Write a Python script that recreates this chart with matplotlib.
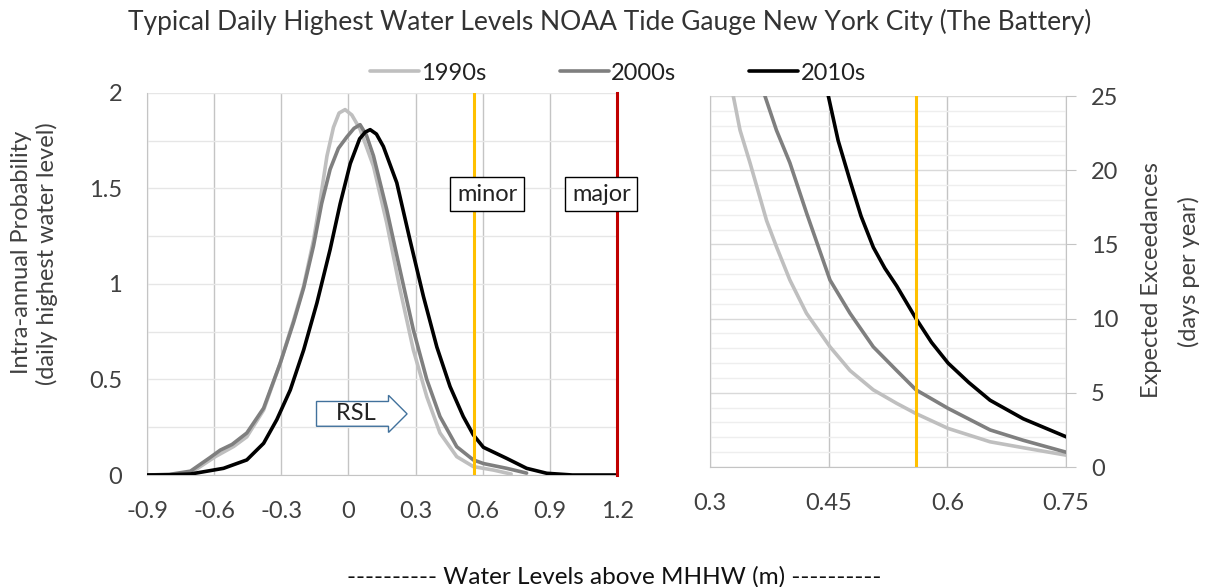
import numpy as np
import matplotlib
matplotlib.use("Agg")
import matplotlib.pyplot as plt
from matplotlib.ticker import MultipleLocator

plt.rcParams["font.family"] = ["Lato", "DejaVu Sans"]

TITLE = "Typical Daily Highest Water Levels NOAA Tide Gauge New York City (The Battery)"
XLABEL = "---------- Water Levels above MHHW (m) ----------"
DECADES = ["1990s", "2000s", "2010s"]
COLORS = ["#BFBFBF", "#7F7F7F", "#000000"]

# left panel: density of daily highest water level
pdf_x_1990 = [-0.9, -0.8, -0.706, -0.595, -0.512, -0.454, -0.379, -0.305, -0.245, -0.2, -0.156,
              -0.126, -0.096, -0.067, -0.042, -0.015, 0.015, 0.052, 0.112, 0.171, 0.231, 0.29, 0.35,
              0.409, 0.484, 0.558, 0.647, 0.727]
pdf_y_1990 = [0.0, 0.002, 0.01, 0.096, 0.15, 0.2, 0.34, 0.585, 0.81, 0.99, 1.23,
              1.44, 1.67, 1.82, 1.895, 1.913, 1.885, 1.81, 1.616, 1.32, 0.97, 0.655, 0.41,
              0.22, 0.096, 0.044, 0.026, 0.005]
pdf_x_2000 = [-0.9, -0.8, -0.706, -0.62, -0.573, -0.52, -0.454, -0.379, -0.305, -0.245, -0.2,
              -0.156, -0.12, -0.082, -0.045, -0.007, 0.025, 0.052, 0.08, 0.112, 0.171, 0.231,
              0.29, 0.35, 0.409, 0.484, 0.558, 0.603, 0.707, 0.796]
pdf_y_2000 = [0.0, 0.003, 0.02, 0.09, 0.13, 0.16, 0.22, 0.35, 0.585, 0.8, 0.98,
              1.2, 1.42, 1.6, 1.71, 1.77, 1.815, 1.834, 1.78, 1.67, 1.39, 1.07,
              0.76, 0.5, 0.306, 0.148, 0.079, 0.06, 0.035, 0.01]
pdf_x_2010 = [-0.9, -0.8, -0.706, -0.558, -0.454, -0.379, -0.32, -0.26, -0.2, -0.141, -0.082,
              -0.037, 0.008, 0.05, 0.075, 0.097, 0.125, 0.156, 0.216, 0.275, 0.335, 0.395, 0.454,
              0.513, 0.558, 0.603, 0.707, 0.796, 0.886, 1.0, 1.2]
pdf_y_2010 = [0.0, 0.001, 0.005, 0.035, 0.079, 0.166, 0.29, 0.445, 0.655, 0.9, 1.18,
              1.42, 1.63, 1.76, 1.795, 1.808, 1.785, 1.72, 1.53, 1.23, 0.935, 0.67, 0.463,
              0.306, 0.21, 0.145, 0.087, 0.035, 0.009, 0.0, 0.0]

# right panel: expected exceedances (days per year)
exc_x_1990 = [0.3295, 0.338, 0.3506, 0.3716, 0.384, 0.401, 0.422, 0.4517, 0.477, 0.5064,
              0.536, 0.5604, 0.601, 0.654, 0.696, 0.75]
exc_y_1990 = [25.0, 22.7, 20.5, 16.6, 14.85, 12.6, 10.36, 8.1, 6.5, 5.2,
              4.29, 3.6, 2.6, 1.7, 1.3, 0.8]
exc_x_2000 = [0.3695, 0.384, 0.401, 0.4222, 0.4517, 0.477, 0.5064, 0.536, 0.5604, 0.601,
              0.654, 0.696, 0.75]
exc_y_2000 = [25.0, 22.7, 20.5, 17.1, 12.6, 10.36, 8.1, 6.5, 5.2, 3.95,
              2.5, 1.8, 1.0]
exc_x_2010 = [0.4496, 0.462, 0.477, 0.491, 0.5065, 0.521, 0.536, 0.5604, 0.58, 0.601,
              0.627, 0.654, 0.696, 0.75]
exc_y_2010 = [25.0, 22.0, 19.3, 16.9, 14.8, 13.4, 12.2, 10.0, 8.4, 7.0,
              5.7, 4.5, 3.25, 2.04]

MINOR_FLOOD = 0.56
MAJOR_FLOOD = 1.2

fig = plt.figure(figsize=(12.07, 5.87), dpi=100)
ax1 = fig.add_axes([0.1218, 0.1908, 0.3894, 0.6508])
ax2 = fig.add_axes([0.5882, 0.2044, 0.295, 0.632])

grid_major = "#C4C4C4"
text_col = "#404040"
FS = 17

# ---- left panel
pdf_x = [pdf_x_1990, pdf_x_2000, pdf_x_2010]
pdf_y = [pdf_y_1990, pdf_y_2000, pdf_y_2010]
for xs, ys, c, lab in zip(pdf_x, pdf_y, COLORS, DECADES):
    ax1.plot(xs, ys, color=c, lw=2.6, label=lab, zorder=3,
             solid_capstyle="round", solid_joinstyle="round")
ax1.axvline(MINOR_FLOOD, color="#FFC000", lw=2.2, zorder=4)
ax1.axvline(MAJOR_FLOOD, color="#C00000", lw=2.2, zorder=4, clip_on=False)
ax1.set_xlim(-0.9, 1.2)
ax1.set_ylim(0, 2)
ax1.set_xticks(np.arange(-0.9, 1.21, 0.3))
ax1.set_xticklabels(["-0.9", "-0.6", "-0.3", "0", "0.3", "0.6", "0.9", "1.2"])
ax1.set_yticks([0, 0.5, 1, 1.5, 2])
ax1.set_yticklabels(["0", "0.5", "1", "1.5", "2"])
ax1.yaxis.set_minor_locator(MultipleLocator(0.25))
ax1.grid(True, which="major", axis="x", color=grid_major, lw=1)
ax1.grid(True, which="both", axis="y", color="#E6E6E6", lw=1)
ax1.set_axisbelow(True)
for s in ["top", "right"]:
    ax1.spines[s].set_visible(False)
for s in ["left", "bottom"]:
    ax1.spines[s].set_color(grid_major)
ax1.tick_params(which="both", length=0, labelsize=FS, labelcolor=text_col)
ax1.tick_params(axis="y", pad=18)
ax1.tick_params(axis="x", pad=19)

box = dict(boxstyle="square,pad=0.28", fc="white", ec="black", lw=1)
ax1.text(0.62, 1.47, "minor", fontsize=FS, ha="center", va="center", bbox=box, zorder=5,
         color="#222222")
ax1.text(1.13, 1.47, "major", fontsize=FS, ha="center", va="center", bbox=box, zorder=5,
         color="#222222", clip_on=False)
ax1.text(0.035, 0.32, "   RSL   ", fontsize=FS, ha="center", va="center", zorder=5,
         color="#222222",
         bbox=dict(boxstyle="rarrow,pad=0.08", fc="white", ec="#41719C", lw=1))

# ---- right panel
exc_x = [exc_x_1990, exc_x_2000, exc_x_2010]
exc_y = [exc_y_1990, exc_y_2000, exc_y_2010]
for xs, ys, c in zip(exc_x, exc_y, COLORS):
    ax2.plot(xs, ys, color=c, lw=2.6, zorder=3, solid_joinstyle="round")
ax2.axvline(MINOR_FLOOD, color="#FFC000", lw=2.2, zorder=4)
ax2.set_xlim(0.3, 0.75)
ax2.set_ylim(0, 25)
ax2.set_xticks([0.3, 0.45, 0.6, 0.75])
ax2.set_xticklabels(["0.3", "0.45", "0.6", "0.75"])
ax2.yaxis.set_major_locator(MultipleLocator(5))
ax2.yaxis.set_minor_locator(MultipleLocator(1))
ax2.yaxis.tick_right()
ax2.grid(True, which="major", axis="x", color=grid_major, lw=1)
ax2.grid(True, which="major", axis="y", color="#D9D9D9", lw=1)
ax2.grid(True, which="minor", axis="y", color="#EEEEEE", lw=1)
ax2.set_axisbelow(True)
ax2.spines["top"].set_visible(False)
for s in ["left", "bottom", "right"]:
    ax2.spines[s].set_color(grid_major)
ax2.tick_params(axis="x", length=0, labelsize=FS, labelcolor=text_col, pad=19)
ax2.tick_params(axis="y", which="major", length=7, color=grid_major, labelsize=FS,
                labelcolor=text_col, pad=11)
ax2.tick_params(axis="y", which="minor", length=0)

# ---- axis titles as figure text (two lines each)
fig.text(22 / 1207, 1 - 252 / 587, "Intra-annual Probability", rotation=90, fontsize=FS,
         ha="center", va="center", color=text_col)
fig.text(47 / 1207, 1 - 254 / 587, "(daily highest water level)", rotation=90, fontsize=FS,
         ha="center", va="center", color=text_col)
fig.text(1151 / 1207, 1 - 280 / 587, "Expected Exceedances", rotation=90, fontsize=FS,
         ha="center", va="center", color=text_col)
fig.text(1189 / 1207, 1 - 272 / 587, "(days per year)", rotation=90, fontsize=FS,
         ha="center", va="center", color=text_col)

fig.text(610 / 1207, 1 - 22 / 587, TITLE, fontsize=19, ha="center", va="center", color="#333333")
fig.text(614 / 1207, 1 - 577 / 587, XLABEL, fontsize=17.5, ha="center", va="center",
         color="#111111")
leg = fig.legend(loc="center", bbox_to_anchor=(618 / 1207, 1 - 73 / 587), ncol=3, frameon=False,
                 fontsize=FS, handlelength=2.07, handletextpad=0.1, columnspacing=3.1)
for t in leg.get_texts():
    t.set_color("#222222")

fig.savefig("out.png", dpi=100)
